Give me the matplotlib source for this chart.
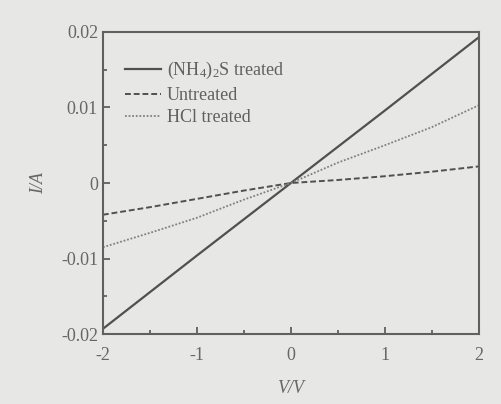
import matplotlib
matplotlib.use("Agg")
import matplotlib.pyplot as plt
from matplotlib.ticker import MultipleLocator

voltage = [-2, -1.5, -1, -0.5, 0, 0.5, 1, 1.5, 2]
nh4s_treated = [-0.0193, -0.01445, -0.0096, -0.0048, 0.0, 0.0048, 0.0096, 0.01445, 0.0193]
untreated = [-0.0042, -0.0032, -0.0021, -0.0010, 0.0, 0.0004, 0.0009, 0.0015, 0.0022]
hcl_treated = [-0.0085, -0.0066, -0.0046, -0.0022, 0.0, 0.0027, 0.0050, 0.0074, 0.0103]
labels = [r"(NH$_4$)$_2$S treated", "Untreated", "HCl treated"]
xticks = [-2, -1, 0, 1, 2]
yticks = [-0.02, -0.01, 0, 0.01, 0.02]
yticklabels = ["-0.02", "-0.01", "0", "0.01", "0.02"]

bg = "#e7e7e5"
ink = "#555555"
plt.rcParams['font.family'] = ['Liberation Serif', 'DejaVu Serif']
plt.rcParams['mathtext.fontset'] = 'custom'
plt.rcParams['mathtext.rm'] = 'Liberation Serif'
plt.rcParams['mathtext.it'] = 'Liberation Serif:italic'

fig = plt.figure(figsize=(5.02, 4.04), dpi=100, facecolor=bg)
ax = fig.add_axes([0.205, 0.173, 0.749, 0.748], facecolor=bg)

ax.plot(voltage, nh4s_treated, color="#505050", lw=1.6, ls='-', label=labels[0])
ax.plot(voltage, untreated, color="#505050", lw=1.4, ls=(0, (3, 1.5)), label=labels[1])
ax.plot(voltage, hcl_treated, color="#808080", lw=1.3, ls=(0, (1, 1)), label=labels[2])

ax.set_xlim(-2, 2)
ax.set_ylim(-0.02, 0.02)
ax.set_xticks(xticks)
ax.set_xticklabels([str(t) for t in xticks])
ax.set_yticks(yticks)
ax.set_yticklabels(yticklabels)
ax.xaxis.set_minor_locator(MultipleLocator(0.5))
ax.yaxis.set_minor_locator(MultipleLocator(0.005))
ax.tick_params(which='both', direction='in', colors=ink, labelcolor="#666666", labelsize=13, width=1.2)
ax.tick_params(which='major', length=5)
ax.tick_params(which='minor', length=3)
ax.tick_params(axis='x', pad=9)
for s in ax.spines.values():
    s.set_color("#606060")
    s.set_linewidth(1.5)

ax.set_xlabel("V/V", fontsize=13, color="#666666", style='italic', labelpad=12)
ax.set_ylabel("I/A", fontsize=13, color="#666666", style='italic', labelpad=10)

leg = ax.legend(loc='upper left', bbox_to_anchor=(0.04, 0.93), frameon=False, fontsize=13,
                handlelength=2.0, handletextpad=0.3, labelspacing=0.3, borderaxespad=0)
for t in leg.get_texts():
    t.set_color("#606060")

fig.savefig("out.png", dpi=100, facecolor=bg)
